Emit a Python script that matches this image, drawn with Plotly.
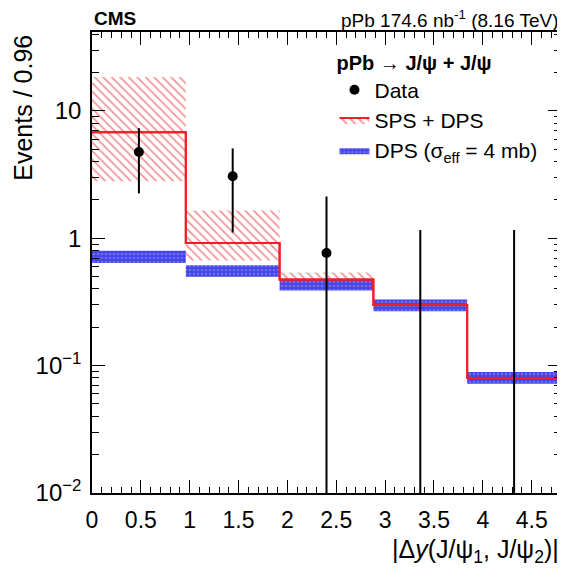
import plotly.graph_objects as go

# ---------------- data ----------------
bin_edges = [0.0, 0.96, 1.92, 2.88, 3.84, 4.8]
bin_centers = [0.48, 1.44, 2.40, 3.36, 4.32]

sps_dps = [6.8, 0.92, 0.475, 0.30, 0.080]
sps_dps_lo = [2.8, 0.67, 0.44, 0.285, 0.077]
sps_dps_hi = [18.5, 1.65, 0.54, 0.315, 0.084]

dps_lo = [0.64, 0.50, 0.39, 0.268, 0.072]
dps_hi = [0.80, 0.615, 0.47, 0.330, 0.089]

data_y = [4.76, 3.07, 0.767, 0.0, 0.0]
data_err_hi = [2.57, 2.01, 1.36, 1.16, 1.16]
data_err_lo = [2.51, 1.96, 0.767, 0.0, 0.0]

x_ticks = [0, 0.5, 1, 1.5, 2, 2.5, 3, 3.5, 4, 4.5]
x_ticklabels = ["0", "0.5", "1", "1.5", "2", "2.5", "3", "3.5", "4", "4.5"]
y_ticks = [0.01, 0.1, 1, 10]
y_ticklabels = ["10<sup>\u22122</sup>", "10<sup>\u22121</sup>", "1", "10"]

FLOOR = 1e-3
FONT = "Liberation Sans, Arial, Helvetica, sans-serif"
RED = "#ee1f26"
HATCH = "#e8282e"
BLUE_BG = "#4444e6"
BLUE_FG = "#9898f6"


def steps(vals):
    xs, ys = [], []
    for i, v in enumerate(vals):
        xs += [bin_edges[i], bin_edges[i + 1]]
        ys += [v, v]
    xs.append(bin_edges[-1])
    ys.append(FLOOR)
    return xs, ys


fig = go.Figure()

# DPS band (blue)
bx, by = steps(dps_lo)
fig.add_trace(go.Scatter(x=bx, y=by, mode="lines", line=dict(width=0),
                         showlegend=False, hoverinfo="skip"))
bx, by = steps(dps_hi)
fig.add_trace(go.Scatter(x=bx, y=by, mode="lines", line=dict(width=0),
                         fill="tonexty", fillcolor=BLUE_BG,
                         fillpattern=dict(shape=".", fgcolor=BLUE_FG, bgcolor=BLUE_BG,
                                          size=4, solidity=0.35),
                         name="DPS (\u03c3<sub>eff</sub> = 4 mb)", legendrank=3))

# SPS + DPS hatched band with central line
hatch = dict(shape="\\", fgcolor=HATCH, bgcolor="rgba(0,0,0,0)", size=6, solidity=0.3)
hx, hy = steps(sps_dps_lo)
fig.add_trace(go.Scatter(x=hx, y=hy, mode="lines", line=dict(width=0),
                         showlegend=False, hoverinfo="skip"))
cx, cy = steps(sps_dps)
fig.add_trace(go.Scatter(x=cx, y=cy, mode="lines", line=dict(color=RED, width=2),
                         fill="tonexty", fillpattern=hatch,
                         name="SPS + DPS", legendrank=2))
ux, uy = steps(sps_dps_hi)
fig.add_trace(go.Scatter(x=ux, y=uy, mode="lines", line=dict(width=0),
                         fill="tonexty", fillpattern=hatch,
                         showlegend=False, hoverinfo="skip"))
# redraw central line on top
fig.add_trace(go.Scatter(x=cx, y=cy, mode="lines", line=dict(color=RED, width=2),
                         showlegend=False, hoverinfo="skip"))

# Data error bars
ex, ey = [], []
for c, v, lo, hi in zip(bin_centers, data_y, data_err_lo, data_err_hi):
    ex += [c, c, None]
    ey += [max(v - lo, FLOOR), v + hi, None]
fig.add_trace(go.Scatter(x=ex, y=ey, mode="lines", line=dict(color="black", width=2),
                         showlegend=False, hoverinfo="skip"))
px = [c for c, v in zip(bin_centers, data_y) if v > 0]
py = [v for v in data_y if v > 0]
fig.add_trace(go.Scatter(x=px, y=py, mode="markers",
                         marker=dict(color="black", size=10),
                         name="Data", legendrank=1))

minor_y = [k * 10.0 ** n for n in range(-2, 2) for k in range(2, 10) if k * 10.0 ** n < 42]

fig.update_layout(
    width=557, height=569,
    margin=dict(l=84, r=2, t=24, b=84),
    paper_bgcolor="white", plot_bgcolor="white",
    font=dict(family=FONT, color="black", size=21),
    legend=dict(x=0.517, y=0.975, xanchor="left", yanchor="top", traceorder="normal",
                bgcolor="rgba(0,0,0,0)", font=dict(size=21, family=FONT),
                title=dict(text="<b>pPb</b> \u2192 <b>J/\u03c8 + J/\u03c8</b>",
                           font=dict(size=20, family=FONT)),
                tracegroupgap=0),
    xaxis=dict(range=[0, 4.8], tickmode="array", tickvals=x_ticks, ticktext=x_ticklabels,
               ticks="inside", ticklen=13, tickwidth=1, tickcolor="black",
               showline=True, linecolor="black", linewidth=1.5, mirror="ticks",
               showgrid=False, zeroline=False,
               tickfont=dict(size=23, family=FONT), ticklabelstandoff=6,
               minor=dict(dtick=0.1, tick0=0, ticks="inside", ticklen=6, tickcolor="black",
                          showgrid=False)),
    yaxis=dict(type="log", range=[-2, 1.62], tickmode="array", tickvals=y_ticks,
               ticktext=y_ticklabels,
               ticks="inside", ticklen=13, tickwidth=1, tickcolor="black",
               showline=True, linecolor="black", linewidth=1.5, mirror="ticks",
               showgrid=False, zeroline=False,
               tickfont=dict(size=24, family=FONT), ticklabelstandoff=4,
               minor=dict(tickmode="array", tickvals=minor_y, ticks="inside", ticklen=7,
                          tickcolor="black", showgrid=False)),
    annotations=[
        dict(text="<b>CMS</b>", xref="paper", yref="paper", x=0.0, y=1.0,
             xanchor="left", yanchor="bottom", yshift=1, showarrow=False,
             font=dict(size=19, family=FONT)),
        dict(text="pPb 174.6 nb<sup>-1</sup> (8.16 TeV)", xref="paper", yref="paper",
             x=0.998, y=1.0, xanchor="right", yanchor="bottom", yshift=-1, showarrow=False,
             font=dict(size=19, family=FONT)),
        dict(text="|\u0394<i>y</i>(J/\u03c8<sub>1</sub>, J/\u03c8<sub>2</sub>)|",
             xref="paper", yref="paper", x=1.0, y=-0.125, xanchor="right", yanchor="middle",
             showarrow=False, font=dict(size=25, family=FONT)),
        dict(text="Events / 0.96", xref="paper", yref="paper", x=-0.149, y=0.836,
             xanchor="center", yanchor="middle", textangle=-90, showarrow=False,
             font=dict(size=25, family=FONT)),
    ],
)

fig.write_html("out.html")
